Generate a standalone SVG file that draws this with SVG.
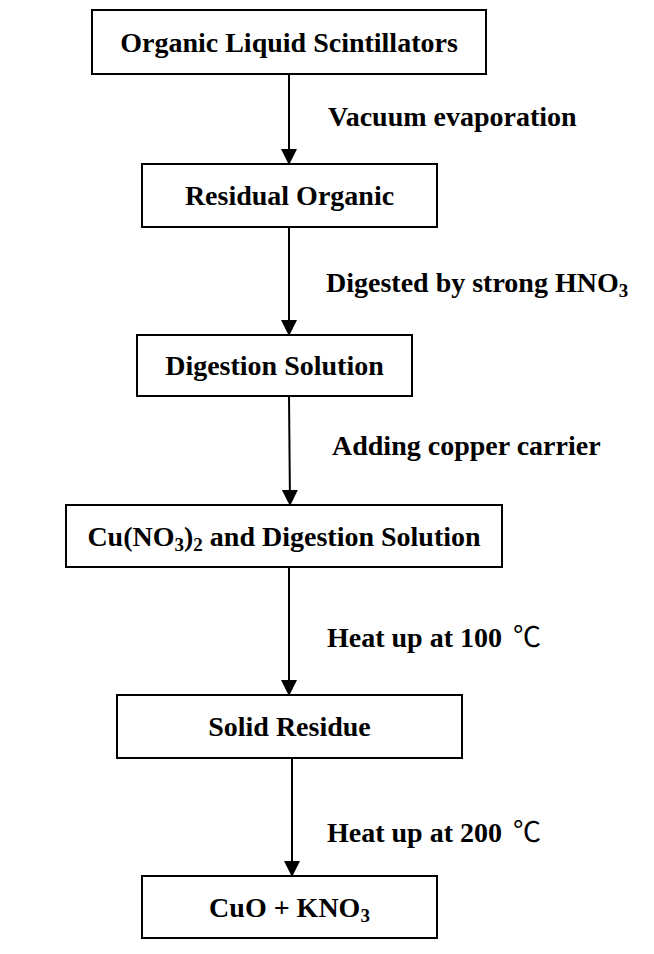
<svg xmlns="http://www.w3.org/2000/svg" width="654" height="954" viewBox="0 0 654 954">
<defs>
<style>
.box{fill:#fff;stroke:#000;stroke-width:2}
.t{font-family:"Liberation Serif","Times New Roman",serif;font-weight:bold;font-size:28px;fill:#000}
.c{text-anchor:middle}
.deg{font-family:"Noto Sans CJK SC","Noto Sans",sans-serif;font-weight:normal}
.edge{stroke:#000;stroke-width:2;fill:none;marker-end:url(#ah)}
</style>
<marker id="ah" markerUnits="userSpaceOnUse" markerWidth="16" markerHeight="18" refX="15" refY="8" orient="auto" viewBox="0 0 16 16">
<path d="M0,0 L16,8 L0,16 Z" fill="#000"/>
</marker>
</defs>
<rect width="654" height="954" fill="#fff"/>
<g id="connectors">
<line class="edge" x1="289" y1="74" x2="289" y2="164"/>
<line class="edge" x1="289" y1="227" x2="289" y2="335"/>
<line class="edge" x1="289" y1="396" x2="290" y2="505"/>
<line class="edge" x1="289" y1="567" x2="289" y2="695"/>
<line class="edge" x1="292" y1="758" x2="292" y2="876"/>
<text class="t" x="328" y="126">Vacuum evaporation</text>
<text class="t" x="326" y="292">Digested by strong HNO<tspan font-size="19" dy="5">3</tspan></text>
<text class="t" x="332" y="455">Adding copper carrier</text>
<text class="t" x="327" y="647">Heat up at 100 <tspan class="deg" x="513">℃</tspan></text>
<text class="t" x="327" y="842">Heat up at 200 <tspan class="deg" x="513">℃</tspan></text>
</g>
<g id="n1"><rect class="box" x="92" y="10" width="394" height="64"/><text class="t c" x="289" y="52">Organic Liquid Scintillators</text></g>
<g id="n2"><rect class="box" x="142" y="164" width="295" height="63"/><text class="t c" x="289.5" y="205">Residual Organic</text></g>
<g id="n3"><rect class="box" x="137" y="335" width="275" height="61"/><text class="t c" x="274.5" y="375">Digestion Solution</text></g>
<g id="n4"><rect class="box" x="66" y="505" width="436" height="62"/><text class="t c" x="284" y="546">Cu(NO<tspan font-size="19" dy="5">3</tspan><tspan dy="-5">)</tspan><tspan font-size="19" dy="5">2</tspan><tspan dy="-5"> and Digestion Solution</tspan></text></g>
<g id="n5"><rect class="box" x="117" y="695" width="345" height="63"/><text class="t c" x="289.5" y="736">Solid Residue</text></g>
<g id="n6"><rect class="box" x="142" y="876" width="295" height="62"/><text class="t c" x="289.5" y="917">CuO + KNO<tspan font-size="19" dy="5">3</tspan></text></g>
</svg>
